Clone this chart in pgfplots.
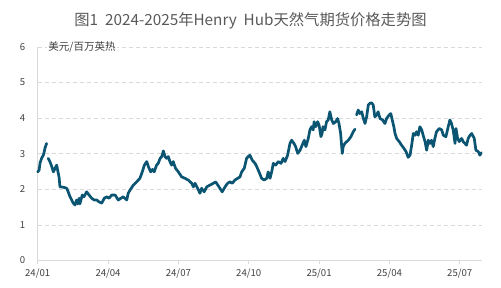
\documentclass[border=0pt]{standalone}
\usepackage{pgfplots}
\pgfplotsset{compat=1.18}
\usepackage{pgfplotstable}
\usepackage{fontspec}
\setmainfont{Noto Sans CJK SC}
\definecolor{linec}{HTML}{0B5572}
\definecolor{gridc}{HTML}{D9D9D9}
\definecolor{txt}{HTML}{404040}
\definecolor{ttl}{HTML}{595959}
\pgfplotstableread{
m p
0.00 2.49
0.06 2.54
0.10 2.74
0.17 2.88
0.24 2.96
0.28 3.06
0.31 3.16
0.38 3.29
0.41 nan
0.45 2.87
0.52 2.78
0.60 2.64
0.67 2.49
0.74 2.59
0.81 2.68
0.85 2.54
0.91 2.35
0.95 2.07
1.09 2.06
1.24 2.03
1.30 1.93
1.38 1.79
1.45 1.70
1.52 1.61
1.59 1.56
1.66 1.70
1.71 1.59
1.77 1.75
1.80 1.59
1.90 1.84
1.97 1.79
2.09 1.93
2.19 1.84
2.30 1.75
2.41 1.70
2.52 1.70
2.61 1.65
2.73 1.61
2.84 1.75
2.94 1.79
3.04 1.75
3.16 1.84
3.30 1.84
3.44 1.70
3.55 1.75
3.65 1.79
3.80 1.70
3.86 1.89
3.94 1.98
4.08 2.12
4.22 2.21
4.36 2.31
4.46 2.49
4.55 2.68
4.65 2.78
4.72 2.64
4.82 2.49
4.90 2.56
4.97 2.49
5.07 2.68
5.14 2.73
5.22 2.87
5.29 2.92
5.36 3.08
5.43 2.92
5.50 2.87
5.57 2.92
5.64 2.78
5.71 2.68
5.78 2.78
5.88 2.59
6.00 2.49
6.14 2.35
6.28 2.31
6.42 2.26
6.57 2.17
6.64 2.07
6.71 2.17
6.82 2.03
6.92 1.89
6.99 2.03
7.10 1.93
7.21 2.07
7.35 2.12
7.49 2.17
7.59 2.21
7.68 2.12
7.77 2.03
7.87 1.93
7.99 2.07
8.10 2.17
8.20 2.21
8.30 2.17
8.41 2.26
8.53 2.31
8.63 2.35
8.70 2.49
8.81 2.59
8.91 2.87
8.98 2.92
9.05 2.96
9.15 2.82
9.27 2.73
9.34 2.64
9.44 2.49
9.55 2.31
9.66 2.26
9.77 2.31
9.83 2.49
9.91 2.31
9.98 2.49
10.05 2.73
10.15 2.68
10.26 2.78
10.38 2.73
10.47 2.87
10.55 2.78
10.66 2.96
10.76 3.29
10.83 3.38
10.93 3.29
11.00 3.20
11.09 3.01
11.19 3.10
11.28 3.24
11.37 3.38
11.44 3.20
11.54 3.43
11.61 3.67
11.68 3.76
11.75 3.67
11.79 3.90
11.86 3.76
11.94 3.90
12.00 3.81
12.08 3.48
12.13 3.57
12.17 3.76
12.25 3.67
12.32 3.90
12.39 3.95
12.46 4.18
12.54 3.95
12.61 3.85
12.71 3.90
12.79 3.99
12.85 3.85
12.92 3.57
12.99 3.01
13.03 3.20
13.10 3.29
13.18 3.34
13.25 3.38
13.36 3.48
13.46 3.62
13.53 3.69
13.56 nan
13.60 4.09
13.67 4.23
13.74 4.13
13.82 4.18
13.89 3.99
13.96 3.85
14.03 4.04
14.10 4.37
14.17 4.42
14.24 4.43
14.31 4.37
14.38 4.04
14.46 4.09
14.52 4.18
14.60 3.99
14.71 3.95
14.81 3.85
14.88 3.99
14.99 4.09
15.06 4.13
15.14 3.90
15.19 3.76
15.24 3.57
15.31 3.43
15.42 3.34
15.52 3.24
15.62 3.15
15.71 3.06
15.80 2.90
15.88 2.96
15.95 3.24
16.02 3.57
16.09 3.52
16.16 3.62
16.23 3.52
16.30 3.76
16.38 3.67
16.44 3.52
16.52 3.34
16.59 3.10
16.66 3.38
16.73 3.29
16.80 3.38
16.87 3.20
16.94 3.43
17.01 3.62
17.13 3.71
17.23 3.67
17.30 3.52
17.41 3.48
17.51 3.76
17.58 3.95
17.65 3.85
17.72 3.67
17.80 3.29
17.84 3.71
17.91 3.43
17.98 3.34
18.08 3.43
18.15 3.34
18.29 3.24
18.36 3.43
18.44 3.52
18.51 3.57
18.62 3.43
18.69 3.10
18.79 3.06
18.86 2.96
18.92 3.03
}\price
\begin{document}
\begin{tikzpicture}
\begin{axis}[
  name=ax,
  scale only axis,
  width=444.3pt, height=213.5pt,
  xmin=0, xmax=18.95,
  ymin=0, ymax=6,
  xtick={0,3,6,9,12,15,18},
  xticklabels={24/01,24/04,24/07,24/10,25/01,25/04,25/07},
  ytick={0,1,2,3,4,5,6},
  axis x line*=bottom,
  axis y line*=left,
  axis line style={draw=gridc, line width=0.8pt},
  ymajorgrids,
  major grid style={draw=gridc, dash pattern=on 4pt off 3pt, line width=0.8pt},
  x tick style={draw=gridc, line width=0.8pt},
  major tick length=4pt,
  tick align=outside,
  y tick style={draw=none},
  tick label style={font=\fontsize{9.6}{11}\selectfont, text=txt},
  /pgf/number format/assume math mode=true,
  xticklabel style={yshift=-1pt},
  yticklabel style={xshift=-5pt},
  unbounded coords=jump,
  clip=false,
]
\addplot[color=linec, line width=2.7pt, line join=round, line cap=round] table[x=m, y=p] {\price};
\node[anchor=west, fill=white, inner xsep=1.5pt, inner ysep=1pt, text=txt,
  font=\fontsize{10.5}{12}\selectfont] at (rel axis cs:0,1) [xshift=9pt] {美元/百万英热};
\end{axis}
\node[text=ttl, font=\fontsize{15.3}{17}\selectfont] at ([xshift=212.8pt,yshift=26pt]ax.north west) {图1\ \ 2024-2025年Henry\ \ Hub天然气期货价格走势图};
\path ([xshift=-37.7pt,yshift=-27.5pt]ax.south west) rectangle ([xshift=19pt,yshift=47pt]ax.north east);
\end{tikzpicture}
\end{document}
